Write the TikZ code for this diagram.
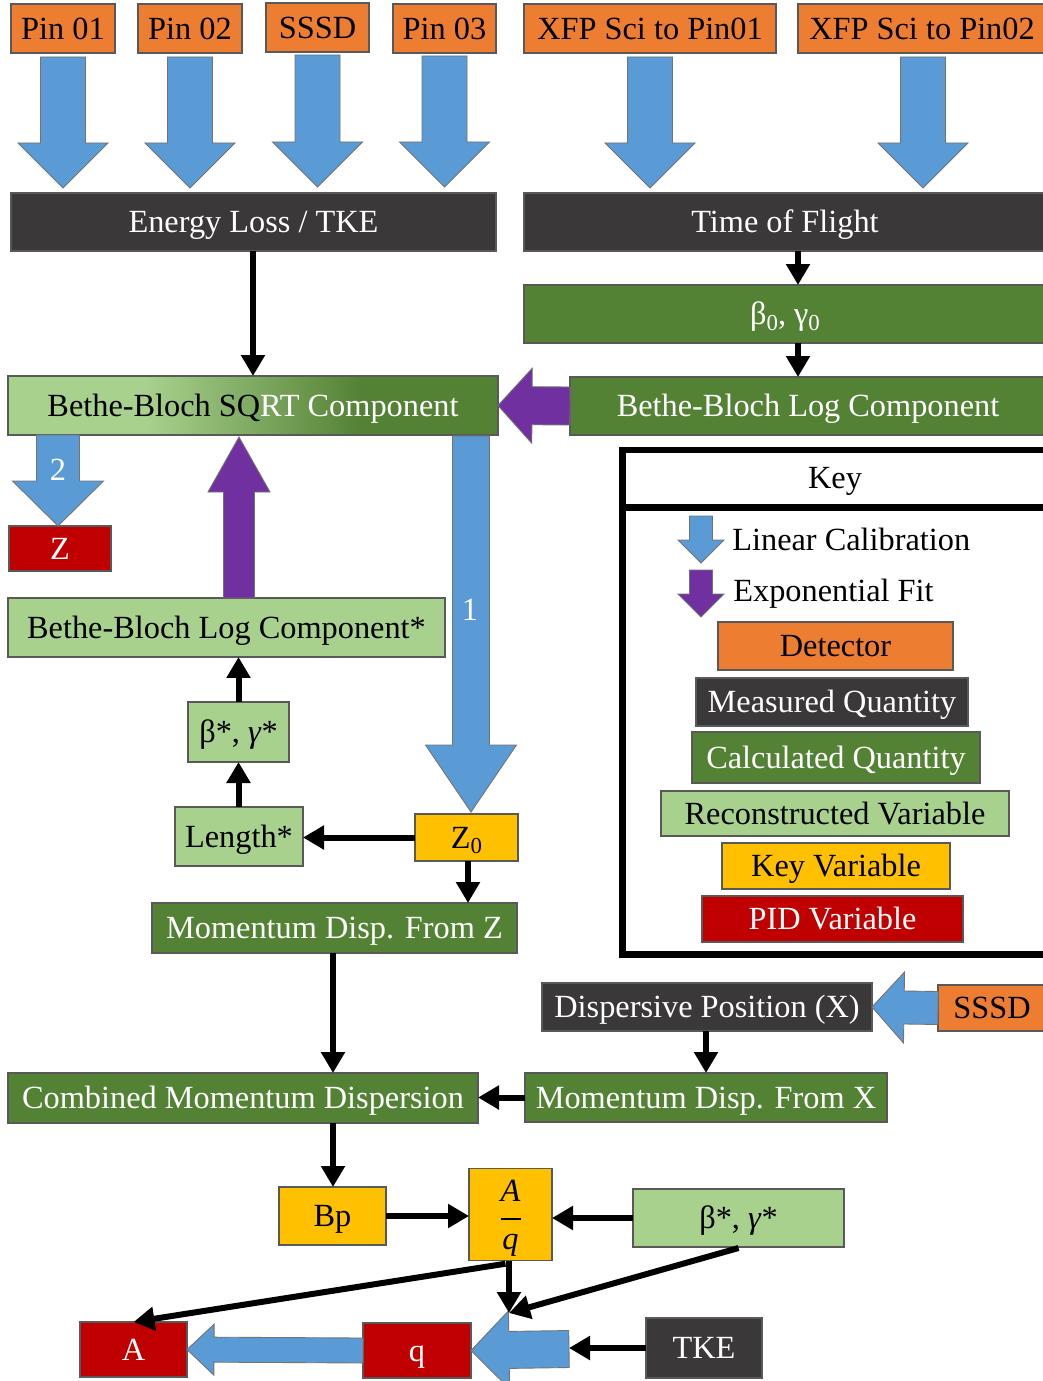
\documentclass[tikz,border=0pt]{standalone}
\usepackage{fontspec}
\setmainfont{Liberation Serif}
\usetikzlibrary{arrows.meta,calc}

\definecolor{detorange}{HTML}{ED7D31}
\definecolor{measgray}{HTML}{3A3838}
\definecolor{calcgreen}{HTML}{548235}
\definecolor{recogreen}{HTML}{A9D18E}
\definecolor{keyyellow}{HTML}{FFC000}
\definecolor{pidred}{HTML}{C00000}
\definecolor{calblue}{HTML}{5B9BD5}
\definecolor{fitpurple}{HTML}{7030A0}

% light-to-dark green blend for the SQRT component box
\pgfdeclarehorizontalshading{sqrtfade}{100bp}{color(0bp)=(recogreen); color(39bp)=(recogreen); color(61bp)=(calcgreen); color(100bp)=(calcgreen)}

\newcommand\mainfs{\fontsize{18.4}{21}\selectfont}
\newcommand\subz[1]{\raisebox{-0.35ex}{\fontsize{13}{13}\selectfont #1}}

% box given by its corners (pixel grid)
\newcommand\bx[7]{\node[#6, minimum width={(#4-#2)*0.02cm}, minimum height={(#5-#3)*0.02cm}]
  (#1) at ({(#2+#4)/2},{(#3+#5)/2}) {#7};}

% block arrow: [fill]{tail}{tip}{shaft half width}{head half width}{head length}
\newcommand\barrow[6][calblue]{%
  \path[blockarrow, fill=#1]
    let \p1=#2, \p2=#3, \p3=($(\p2)!#6*0.02cm!(\p1)$) in
    ($(\p1)!#4*0.02cm!90:(\p2)$) -- ($(\p3)!#4*0.02cm!-90:(\p1)$)
    -- ($(\p3)!#5*0.02cm!-90:(\p1)$) -- (\p2)
    -- ($(\p3)!#5*0.02cm!90:(\p1)$) -- ($(\p3)!#4*0.02cm!90:(\p1)$)
    -- ($(\p1)!#4*0.02cm!-90:(\p2)$) -- cycle;}

\begin{document}
\begin{tikzpicture}[x=0.02cm, y=-0.02cm,
  textline/.style={text height=13pt, text depth=0.5pt},
  boxbase/.style={draw=black!65, line width=0.6pt, inner sep=0pt, outer sep=0pt, font=\mainfs, textline},
  det/.style={boxbase, fill=detorange, text=black},
  meas/.style={boxbase, fill=measgray, text=white},
  calc/.style={boxbase, fill=calcgreen, text=white},
  reco/.style={boxbase, fill=recogreen, text=black},
  keyv/.style={boxbase, fill=keyyellow, text=black},
  pid/.style={boxbase, fill=pidred, text=white},
  blockarrow/.style={draw=black!55, line width=0.5pt},
  conn/.style={line width=0.12cm, -{Triangle[width=0.46cm,length=0.42cm]}},
  keyframe/.style={line width=0.14cm},
  lbl/.style={font=\mainfs, inner sep=0pt, textline}]

\useasboundingbox (0,0) rectangle (1042,1381);

% detectors
\bx{pin1}{11}{4}{115}{53}{det}{Pin 01}
\bx{pin2}{138}{4}{242}{53}{det}{Pin 02}
\bx{sssdA}{266}{3}{369}{52}{det}{SSSD}
\bx{pin3}{393}{4}{496}{53}{det}{Pin 03}
\bx{xfp1}{524}{4}{776}{53}{det}{XFP Sci to Pin01}
\bx{xfp2}{798}{4}{1046}{53}{det}{XFP Sci to Pin02}

% measured quantities
\bx{eloss}{11}{193}{496}{251}{meas}{Energy Loss / TKE}
\bx{tof}{524}{193}{1046}{251}{meas}{Time of Flight}

% Bethe-Bloch chain
\bx{beta0}{524}{285}{1046}{343}{calc}{β\subz{0}, γ\subz{0}}
\bx{bblog}{570}{377}{1046}{435}{calc}{Bethe-Bloch Log Component}
\bx{bbsqrt}{8}{376}{498}{435}{boxbase, shade, shading=sqrtfade}{\textcolor{black}{Bethe-Bloch SQ}\textcolor{white}{RT Component}}
\bx{zpid}{9}{526}{111}{571}{pid}{Z}
\bx{bblogstar}{8}{598}{445}{657}{reco}{Bethe-Bloch Log Component*}
\bx{bstarA}{188}{702}{289}{762}{reco}{β*, \textit{γ}*}
\bx{length}{175}{807}{303}{866}{reco}{Length*}
\bx{zzero}{415}{814}{518}{861}{keyv}{Z\subz{0}}
\bx{mdz}{152}{903}{517}{953}{calc}{Momentum Disp. From Z}

% dispersive position chain
\bx{disp}{542}{983}{872}{1031}{meas}{Dispersive Position (X)}
\bx{sssdB}{938}{985}{1046}{1031}{det}{SSSD}
\bx{mdx}{525}{1073}{887}{1122}{calc}{Momentum Disp. From X}
\bx{comb}{8}{1073}{478}{1123}{calc}{Combined Momentum Dispersion}

% A/q and PID
\bx{bp}{279}{1187}{386}{1245}{keyv}{Bp}
\bx{aq}{469}{1170}{552}{1259}{keyv, text height=, text depth=}{\begin{tabular}{@{}c@{}}\rule{0pt}{18.7pt}\textit{A}\\[-7.2pt]\rule[0.17em]{0.4cm}{1.1pt}\\[-7.2pt]\textit{q}\end{tabular}}
\bx{bstarB}{633}{1189}{844}{1247}{reco}{β*, \textit{γ}*}
\bx{apid}{80}{1322}{187}{1377}{pid}{A}
\bx{qpid}{363}{1323}{471}{1378}{pid}{q}
\bx{tke}{646}{1318}{762}{1378}{meas}{TKE}

% key
\draw[keyframe] (1060,450) -- (622,450) -- (622,954) -- (1060,954);
\draw[keyframe] (622,507) -- (1060,507);
\node[lbl] (keytitle) at (835,478) {Key};
\barrow{(701,516)}{(701,563)}{11.5}{23}{23}
\node[lbl, anchor=west] (keylin) at (732,540) {Linear Calibration};
\barrow[fitpurple]{(701,570)}{(701,617)}{11.5}{23}{23}
\node[lbl, anchor=west] (keyexp) at (733,591) {Exponential Fit};
\bx{kdet}{718}{622}{953}{670}{det}{Detector}
\bx{kmeas}{696}{678}{968}{726}{meas}{Measured Quantity}
\bx{kcalc}{692}{732}{980}{783}{calc}{Calculated Quantity}
\bx{kreco}{661}{791}{1009}{836}{reco}{Reconstructed Variable}
\bx{kkey}{722}{843}{950}{889}{keyv}{Key Variable}
\bx{kpid}{702}{896}{963}{942}{pid}{PID Variable}

% linear calibrations from the detectors
\barrow{($(pin1.south)+(0,4)$)}{($(pin1.south |- eloss.north)+(0,-5)$)}{22.5}{45}{45}
\barrow{($(pin2.south)+(0,4)$)}{($(pin2.south |- eloss.north)+(0,-5)$)}{22.5}{45}{45}
\barrow{($(sssdA.south)+(0,3)$)}{($(sssdA.south |- eloss.north)+(0,-6)$)}{22.5}{45}{45}
\barrow{($(pin3.south)+(0,3)$)}{($(pin3.south |- eloss.north)+(0,-6)$)}{22.5}{45}{45}
\barrow{($(xfp1.south)+(0,4)$)}{($(xfp1.south |- tof.north)+(0,-5)$)}{22.5}{45}{45}
\barrow{($(923,0 |- xfp2.south)+(0,4)$)}{($(923,0 |- tof.north)+(0,-5)$)}{22.5}{45}{45}

% calibrations and fits around the Bethe-Bloch terms
\barrow[fitpurple]{(bblog.west)}{(bbsqrt.east)}{19}{37.5}{34}
\barrow{(58,0 |- bbsqrt.south)}{(58,0 |- zpid.north)}{21.5}{45.5}{45}
\node[lbl, text=white] (lbltwo) at (58,470) {2};
\barrow{($(471,0 |- bbsqrt.south)+(0,1)$)}{($(471,0 |- zzero.north)+(0,-2)$)}{18.5}{45.5}{67}
\node[lbl, text=white] (lblone) at (470,610) {1};
\barrow[fitpurple]{(239,0 |- bblogstar.north)}{($(239,0 |- bbsqrt.south)+(0,2)$)}{15.5}{31}{55}
\barrow{(sssdB.west)}{(disp.east)}{16.5}{35.5}{32}

% black connectors
\draw[conn] (253,0 |- eloss.south) -- (253,0 |- bbsqrt.north);
\draw[conn] (798,0 |- tof.south) -- (798,0 |- beta0.north);
\draw[conn] (798,0 |- beta0.south) -- (798,0 |- bblog.north);
\draw[conn] (zzero.west) -- (zzero.west -| length.east);
\draw[conn] (bstarA.south |- length.north) -- (bstarA.south);
\draw[conn] (bstarA.north) -- (bstarA.north |- bblogstar.south);
\draw[conn] (468,0 |- zzero.south) -- (468,0 |- mdz.north);
\draw[conn] (333,0 |- mdz.south) -- (333,0 |- comb.north);
\draw[conn] (706,0 |- disp.south) -- (706,0 |- mdx.north);
\draw[conn] (mdx.west) -- (mdx.west -| comb.east);
\draw[conn] (333,0 |- comb.south) -- (333,0 |- bp.north);
\draw[conn] (bp.east) -- (bp.east -| aq.west);
\draw[conn] (bstarB.west) -- (bstarB.west -| aq.east);

% charge state and mass
\coordinate (merge) at (509,1313);
\coordinate (qtail) at (569,1349);
\barrow{(qtail)}{(qpid.east)}{18.5}{39}{38}
\barrow{(qpid.west)}{(apid.east)}{12.5}{25.5}{27}
\draw[conn] (merge |- aq.south) -- (merge);
\draw[conn] ($(aq.south)+(-5,3)$) -- (apid.north);
\draw[conn] ($(bstarB.south)+(0,1)$) -- (merge);
\draw[conn] (tke.west) -- (tke.west -| qtail);

\end{tikzpicture}
\end{document}
